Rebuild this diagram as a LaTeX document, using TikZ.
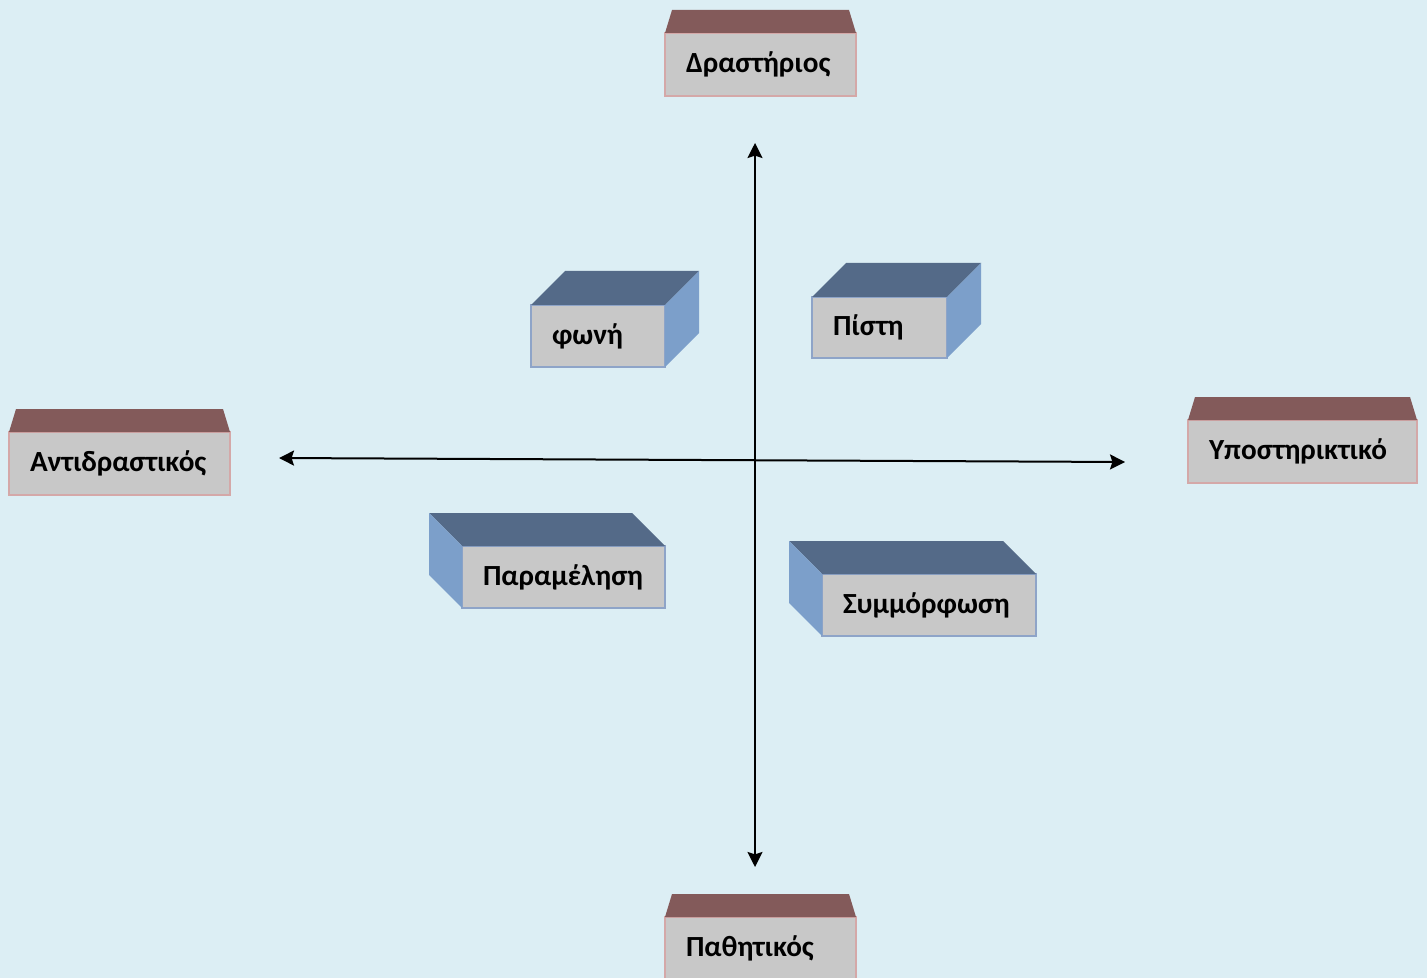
\documentclass[tikz,border=0pt]{standalone}
\usepackage{fontspec}
\setmainfont{Carlito}
\usetikzlibrary{arrows.meta}

\definecolor{sky}{HTML}{DCEEF4}
\definecolor{frontgray}{HTML}{C8C8C8}
\definecolor{brownface}{HTML}{835A5A}
\definecolor{brownedge}{HTML}{D4A8A8}
\definecolor{slateface}{HTML}{546A88}
\definecolor{sideface}{HTML}{7C9FCA}
\definecolor{blueedge}{HTML}{8EA4C8}

\begin{document}
\begin{tikzpicture}[x=0.5pt, y=-0.5pt,
    front/.style={rectangle, draw, fill=frontgray, line width=0.9pt, outer sep=0pt,
        inner xsep=10.5pt, align=left, minimum height=31pt,
        font=\fontsize{14.6}{17}\selectfont\bfseries},
    pole/.style={front, draw=brownedge, minimum height=31.5pt},
    cube/.style={front, draw=blueedge},
    axis/.style={{Stealth[length=7.5pt, width=7.5pt, inset=1.2pt]}-{Stealth[length=7.5pt, width=7.5pt, inset=1.2pt]}, line width=1pt}]

    % canvas
    \fill[sky] (0,0) rectangle (1427,978);
    \useasboundingbox (0,0) rectangle (1427,978);
    \clip (0,0) rectangle (1427,978);

    % axes
    \coordinate (up) at (755,143);
    \coordinate (down) at (755,867);
    \coordinate (left) at (279,458);
    \coordinate (right) at (1125,462);
    \draw[axis] (up) -- (down);
    \draw[axis] (left) -- (right);

    % poles at the ends of the axes
    \node (drast) [pole, text width=74.5pt] at (760.5,64.5) {Δραστήριος};
    \node (antid) [pole, text width=89.5pt] at (119.5,463.5) {Αντιδραστικός};
    \node (ypost) [pole, text width=93.5pt] at (1302.5,451.5) {Υποστηρικτικό};
    \node (pathi) [pole, text width=74.5pt] at (760.5,948.5) {Παθητικός};

    \foreach \n in {drast, antid, ypost, pathi}
        \fill[brownface] (\n.north west) -- ++(7,-23) -- ([shift={(-7,-23)}]\n.north east) -- (\n.north east) -- cycle;

    % boxes in the quadrants
    \node (foni) [cube, text width=46pt] at (598,336) {φωνή};
    \node (pisti) [cube, text width=46.5pt, minimum height=30.5pt] at (879.5,327.5) {Πίστη};
    \node (param) [cube, text width=80.5pt] at (563.5,577) {Παραμέληση};
    \node (symm) [cube, text width=86pt] at (929,605) {Συμμόρφωση};

    % depth to the right
    \foreach \n in {foni, pisti} {
        \fill[slateface] (\n.north west) -- ++(34,-34) -- ([shift={(34,-34)}]\n.north east) -- (\n.north east) -- cycle;
        \fill[sideface] (\n.north east) -- ++(34,-34) -- ([shift={(34,-34)}]\n.south east) -- (\n.south east) -- cycle;
    }
    % depth to the left
    \foreach \n in {param, symm} {
        \fill[slateface] (\n.north west) -- ++(-33,-33) -- ([shift={(-33,-33)}]\n.north east) -- (\n.north east) -- cycle;
        \fill[sideface] (\n.north west) -- ++(-33,-33) -- ([shift={(-33,-33)}]\n.south west) -- (\n.south west) -- cycle;
    }

\end{tikzpicture}
\end{document}
